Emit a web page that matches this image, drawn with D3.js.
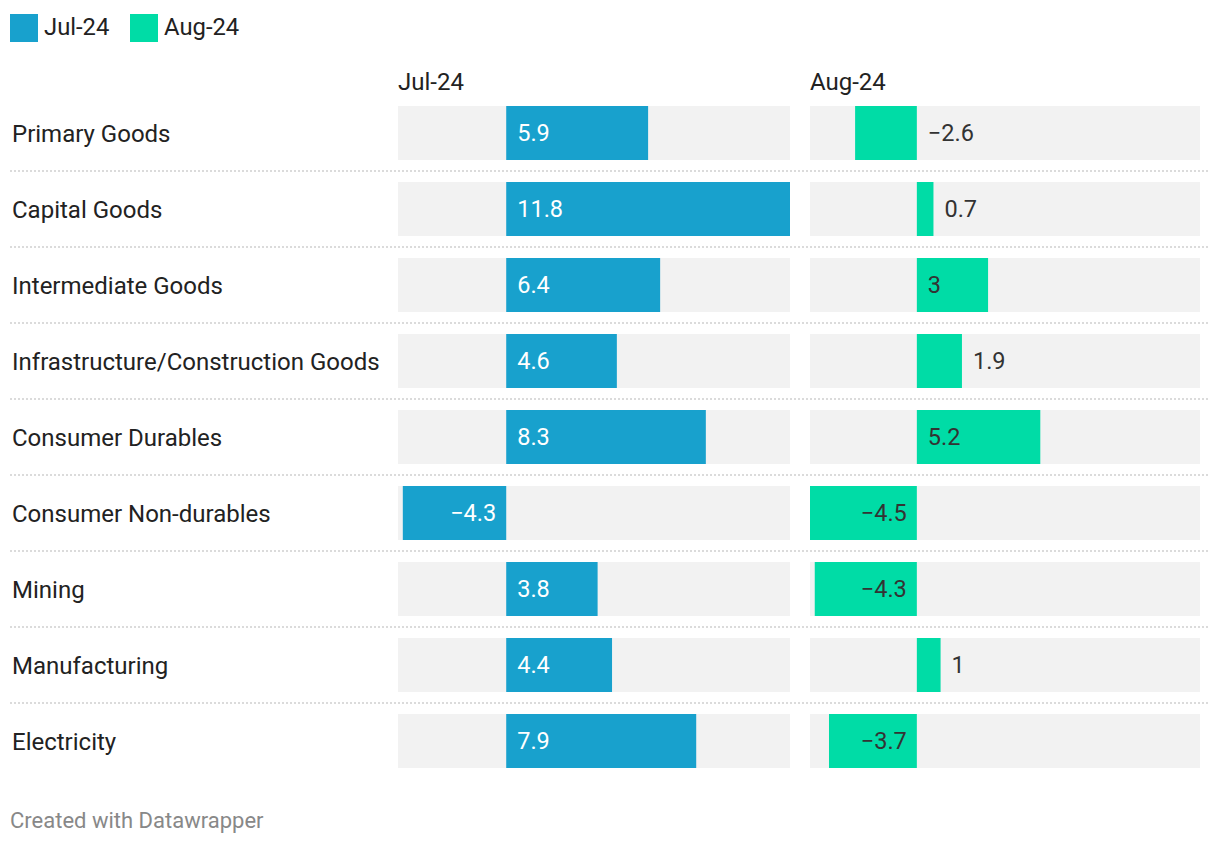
<!DOCTYPE html>
<html>
<head>
<meta charset="utf-8">
<script src="https://cdn.jsdelivr.net/npm/d3@7"></script>
<style>
  body { margin: 0; background: #fff; font-family: Roboto, "Noto Sans", sans-serif; }
</style>
</head>
<body>
<div id="chart"></div>
<script>
// categories and values
var categories = ["Primary Goods", "Capital Goods", "Intermediate Goods",
                  "Infrastructure/Construction Goods", "Consumer Durables",
                  "Consumer Non-durables", "Mining", "Manufacturing", "Electricity"]
var jul24 = [5.9, 11.8, 6.4, 4.6, 8.3, -4.3, 3.8, 4.4, 7.9]
var aug24 = [-2.6, 0.7, 3, 1.9, 5.2, -4.5, -4.3, 1, -3.7]
var seriesNames = ["Jul-24", "Aug-24"]

var blue = "#18a1cd", green = "#00dca6"

var svg = d3.select("#chart").append("svg")
  .attr("width", 1220)
  .attr("height", 846)

// legend
var legend = svg.append("g")
var legendX = [10, 130]
seriesNames.forEach(function(name, i) {
  legend.append("rect")
    .attr("x", legendX[i]).attr("y", 14)
    .attr("width", 28).attr("height", 28)
    .style("fill", i == 0 ? blue : green)
  legend.append("text")
    .attr("x", legendX[i] + 34).attr("y", 35)
    .style("font-size", "23.8px")
    .style("fill", "#222")
    .text(name)
})

// rows
var y = d3.scaleBand()
  .domain(categories)
  .range([95, 95 + categories.length * 76])
  .paddingInner(22 / 76)
  .paddingOuter(11 / 76)

var domain = [-4.5, 11.8]
var panels = [
  { name: seriesNames[0], values: jul24, color: blue, textIn: "#fff",
    x: d3.scaleLinear().domain(domain).range([398, 790]) },
  { name: seriesNames[1], values: aug24, color: green, textIn: "#333",
    x: d3.scaleLinear().domain(domain).range([810, 1197]) }
]

// dotted separators between rows
categories.forEach(function(c, i) {
  if (i == categories.length - 1) return
  var yy = y(c) + y.bandwidth() + 11
  svg.append("line")
    .attr("x1", 10).attr("x2", 1208)
    .attr("y1", yy).attr("y2", yy)
    .style("stroke", "#cfcfcf")
    .style("stroke-width", 1.5)
    .style("stroke-dasharray", "2,2")
})

// row labels
svg.selectAll(".rowlabel")
  .data(categories)
  .enter().append("text")
  .attr("class", "rowlabel")
  .attr("x", 12)
  .attr("y", function(d) { return y(d) + y.bandwidth() / 2 })
  .attr("dy", "0.36em")
  .style("font-size", "24px")
  .style("fill", "#222")
  .text(function(d) { return d })

function fmt(v) {
  return v < 0 ? "\u2212" + Math.abs(v) : String(v)
}

panels.forEach(function(p) {
  var x = p.x
  var g = svg.append("g")

  g.append("text")
    .attr("x", x.range()[0])
    .attr("y", 90)
    .style("font-size", "24px")
    .style("fill", "#222")
    .text(p.name)

  // grey background tracks
  g.selectAll(".track")
    .data(categories)
    .enter().append("rect")
    .attr("x", x.range()[0])
    .attr("y", function(d) { return y(d) })
    .attr("width", 1200 - x.range()[0] - (p.name == seriesNames[0] ? 410 : 0))
    .attr("height", y.bandwidth())
    .style("fill", "#f2f2f2")

  g.selectAll(".bar")
    .data(p.values)
    .enter().append("rect")
    .attr("x", function(d) { return Math.min(x(0), x(d)) })
    .attr("y", function(d, i) { return y(categories[i]) })
    .attr("width", function(d) { return Math.abs(x(d) - x(0)) })
    .attr("height", y.bandwidth())
    .style("fill", p.color)

  g.selectAll(".val")
    .data(p.values)
    .enter().append("text")
    .each(function(d, i) {
      var w = Math.abs(x(d) - x(0))
      var inside = w > 66
      var t = d3.select(this)
        .attr("y", y(categories[i]) + y.bandwidth() / 2)
        .attr("dy", "0.32em")
        .style("font-size", "23.5px")
        .text(fmt(d))
      if (inside) {
        t.style("fill", p.textIn)
        if (d >= 0) t.attr("x", x(0) + 11).attr("text-anchor", "start")
        else t.attr("x", x(0) - 10).attr("text-anchor", "end")
      } else {
        t.style("fill", "#333").attr("text-anchor", "start")
        t.attr("x", (d >= 0 ? x(d) : x(0)) + 11)
      }
    })
})

svg.append("text")
  .attr("x", 10)
  .attr("y", 828)
  .style("font-size", "22px")
  .style("fill", "#888")
  .text("Created with Datawrapper")
</script>
</body>
</html>
